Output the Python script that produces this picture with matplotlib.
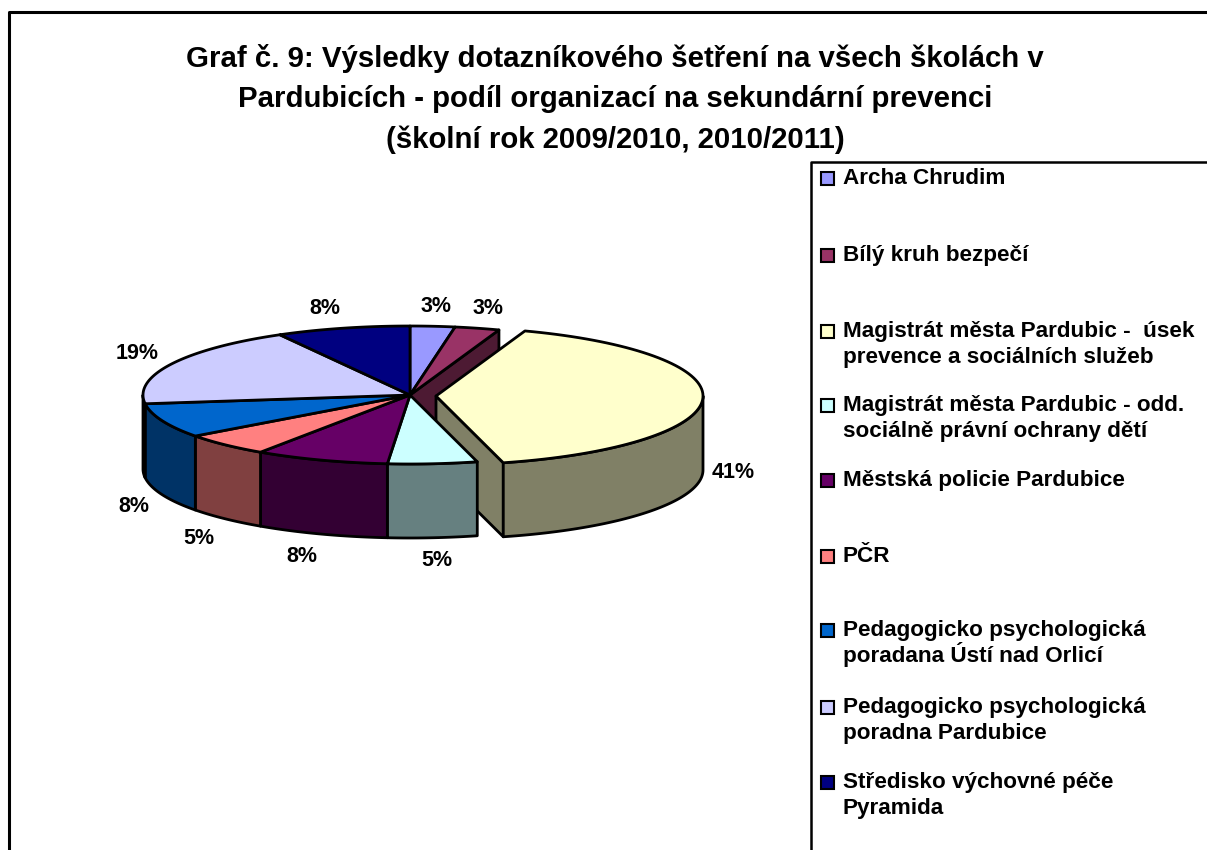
import numpy as np
import matplotlib
matplotlib.use("Agg")
import matplotlib.pyplot as plt
from matplotlib.patches import Polygon, Rectangle

plt.rcParams['font.family'] = ['Liberation Sans', 'DejaVu Sans']

# data
title_lines = ["Graf č. 9: Výsledky dotazníkového šetření na všech školách v",
               "Pardubicích - podíl organizací na sekundární prevenci",
               "(školní rok 2009/2010, 2010/2011)"]
categories = ["Archa Chrudim", "Bílý kruh bezpečí",
              "Magistrát města Pardubic -  úsek\nprevence a sociálních služeb",
              "Magistrát města Pardubic - odd.\nsociálně právní ochrany dětí",
              "Městská policie Pardubice", "PČR",
              "Pedagogicko psychologická\nporadana Ústí nad Orlicí",
              "Pedagogicko psychologická\nporadna Pardubice",
              "Středisko výchovné péče\nPyramida"]
counts = [1, 1, 15, 2, 3, 2, 3, 7, 3]
pct_labels = ["3%", "3%", "41%", "5%", "8%", "5%", "8%", "19%", "8%"]
top_colors = ["#9999FF", "#993366", "#FFFFCC", "#CCFFFF", "#660066",
              "#FF8080", "#0066CC", "#CCCCFF", "#000080"]
side_colors = ["#4C4C80", "#4D1A33", "#808066", "#668080", "#330033",
               "#804040", "#003366", "#666680", "#000040"]

# layout in pixels
label_xy = [(436, 306), (488, 309), (733, 472), (437, 561), (302, 556),
            (199, 539), (134, 506), (137, 353), (325, 308)]
legend_y = [178, 255, 331, 405, 480, 556, 630, 707, 782]
cx, cy = 410, 395
rx, ry = 267, 69
depth = 74
exploded = 2
ex_cx, ex_cy = 436, 396
lw = 2.0

fig = plt.figure(figsize=(12.07, 8.5), dpi=100)
ax = fig.add_axes([0, 0, 1, 1])
ax.set_xlim(0, 1207)
ax.set_ylim(850, 0)
ax.axis("off")

edges = np.concatenate([[0], np.cumsum(counts)]) / np.sum(counts) * 2 * np.pi


def rim(a1, a2, x0, y0):
    t = np.linspace(a1, a2, 80)
    return np.column_stack([x0 + rx * np.sin(t), y0 - ry * np.cos(t)])


def draw_top(i, x0, y0):
    pts = np.vstack([[x0, y0], rim(edges[i], edges[i + 1], x0, y0)])
    ax.add_patch(Polygon(pts, closed=True, fc=top_colors[i], ec="black", lw=lw, joinstyle="round"))


def draw_side(i, x0, y0):
    # only the part of the rim that faces the viewer
    a1 = max(edges[i], np.pi / 2)
    a2 = min(edges[i + 1], 3 * np.pi / 2)
    if a2 <= a1:
        return
    r = rim(a1, a2, x0, y0)
    pts = np.vstack([r, r[::-1] + [0, depth]])
    ax.add_patch(Polygon(pts, closed=True, fc=side_colors[i], ec="black", lw=lw, joinstyle="round"))


def draw_cut(i, a, x0, y0):
    r = rim(a, a, x0, y0)[0]
    pts = [[x0, y0], r, r + [0, depth], [x0, y0 + depth]]
    ax.add_patch(Polygon(pts, closed=True, fc=side_colors[i], ec="black", lw=lw, joinstyle="round"))


# cut face behind the gap, then the pulled out slice, then the rest
draw_cut(1, edges[2], cx, cy)
draw_cut(exploded, edges[exploded + 1], ex_cx, ex_cy)
draw_side(exploded, ex_cx, ex_cy)
draw_top(exploded, ex_cx, ex_cy)
for i in range(len(counts)):
    if i != exploded:
        draw_side(i, cx, cy)
for i in range(len(counts)):
    if i != exploded:
        draw_top(i, cx, cy)

for lab, (x, y) in zip(pct_labels, label_xy):
    ax.text(x, y, lab, fontsize=15.5, fontweight="bold", ha="center", va="center")

# title
for line, y in zip(title_lines, [67, 107, 148]):
    ax.text(615, y, line, fontsize=21.2, fontweight="bold", ha="center", va="baseline")

# frames run off the picture on the right and at the bottom
ax.plot([9, 9, 1207], [850, 12, 12], color="black", lw=2.2)
ax.plot([1207, 811, 811], [162, 162, 850], color="black", lw=1.8)

# legend
for name, col, y in zip(categories, top_colors, legend_y):
    ax.add_patch(Rectangle((821, y - 6.5), 13, 13, fc=col, ec="black", lw=1.5))
    for k, part in enumerate(name.split("\n")):
        ax.text(843, y + 6 + 26 * k, part, fontsize=16.2, fontweight="bold", ha="left", va="baseline")

fig.savefig("out.png", dpi=100)
